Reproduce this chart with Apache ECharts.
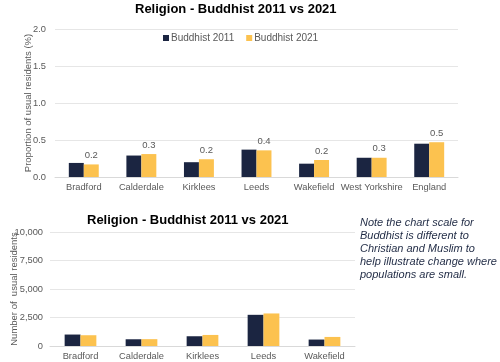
<!DOCTYPE html>
<html><head><meta charset="utf-8">
<script src="https://cdn.jsdelivr.net/npm/echarts@6/dist/echarts.min.js"></script>
<style>html,body{margin:0;padding:0;background:#fff}#c{width:500px;height:362px}</style>
</head><body><div id="c"></div>
<script>
const topCategories = ['Bradford','Calderdale','Kirklees','Leeds','Wakefield','West Yorkshire','England'];
const topPct2011 = [0.19,0.29,0.20,0.37,0.18,0.26,0.45];
const topPct2021 = [0.17,0.31,0.24,0.36,0.23,0.26,0.47];
const topTicks = [0,0.5,1.0,1.5,2.0];
const bottomCategories = ['Bradford','Calderdale','Kirklees','Leeds','Wakefield'];
const bottomCount2011 = [1005,590,855,2735,565];
const bottomCount2021 = [945,600,970,2855,795];
const bottomTicks = [0,2500,5000,7500,10000];
const noteLines = ['Note the chart scale for','Buddhist is different to','Christian and Muslim to','help illustrate change where','populations are small.'];

const NAVY = '#1b2541', YEL = '#fcc24f', GREY = '#595959';
const FONT = 'Liberation Sans, Arial, sans-serif';
const chart = echarts.init(document.getElementById('c'), null, {renderer:'canvas'});
const axisLabel = {color: GREY, fontSize: 9.3, fontFamily: FONT};
chart.setOption({
  animation: false,
  textStyle: {fontFamily: FONT},
  title: [
    {text: 'Religion - Buddhist 2011 vs 2021', left: 135, top: 3, padding: 0, textStyle:{fontSize:13, fontWeight:'bold', color:'#000', fontFamily: FONT}},
    {text: 'Religion - Buddhist 2011 vs 2021', left: 87, top: 214, padding: 0, textStyle:{fontSize:13, fontWeight:'bold', color:'#000', fontFamily: FONT}}
  ],
  legend: {
    left: 163, top: 33, padding: 0, itemWidth: 6, itemHeight: 6, itemGap: 12, icon: 'rect',
    textStyle: {color: GREY, fontSize: 10, fontFamily: FONT, padding:[0,0,0,-3]},
    data: ['Buddhist 2011','Buddhist 2021']
  },
  grid: [
    {left: 55, right: 42, top: 29, bottom: 185, containLabel: false, outerBoundsMode: 'none'},
    {left: 50, right: 145, top: 232, bottom: 16, containLabel: false, outerBoundsMode: 'none'}
  ],
  xAxis: [
    {type:'category', gridIndex:0, data: topCategories, axisTick:{show:false},
     axisLine:{lineStyle:{color:'#d9d9d9'}}, axisLabel:Object.assign({margin:6, interval:0}, axisLabel)},
    {type:'category', gridIndex:1, data: bottomCategories, axisTick:{show:false},
     axisLine:{lineStyle:{color:'#d9d9d9'}}, axisLabel:Object.assign({margin:6, interval:0}, axisLabel)}
  ],
  yAxis: [
    {type:'value', gridIndex:0, min: topTicks[0], max: topTicks[topTicks.length-1], interval: 0.5,
     name:'Proportion of usual residents (%)', nameLocation:'middle', nameGap: 22, nameMoveOverlap: false,
     nameTextStyle:{color:GREY, fontSize:9.5, fontFamily:FONT},
     axisLine:{show:false}, axisTick:{show:false},
     splitLine:{lineStyle:{color:'#e6e6e6'}},
     axisLabel:Object.assign({margin:9, formatter:v=>v.toFixed(1)}, axisLabel)},
    {type:'value', gridIndex:1, min: bottomTicks[0], max: bottomTicks[bottomTicks.length-1], interval: 2500,
     name:'Number of  usual residents', nameLocation:'middle', nameGap: 31, nameMoveOverlap: false,
     nameTextStyle:{color:GREY, fontSize:9.5, fontFamily:FONT},
     axisLine:{show:false}, axisTick:{show:false},
     splitLine:{lineStyle:{color:'#e6e6e6'}},
     axisLabel:Object.assign({margin:7, formatter:v=>v.toLocaleString('en-GB')}, axisLabel)}
  ],
  series: [
    {name:'Buddhist 2011', type:'bar', xAxisIndex:0, yAxisIndex:0, data: topPct2011,
     itemStyle:{color:NAVY}, barGap:'0%', barCategoryGap:'48%'},
    {name:'Buddhist 2021', type:'bar', xAxisIndex:0, yAxisIndex:0, data: topPct2021,
     itemStyle:{color:YEL}, barGap:'0%', barCategoryGap:'48%',
     label:{show:true, position:'top', distance:4, color:GREY, fontSize:9.5, fontFamily:FONT,
            formatter:p=>(Math.round(p.value*10)/10).toFixed(1)}},
    {name:'Buddhist 2011', type:'bar', xAxisIndex:1, yAxisIndex:1, data: bottomCount2011,
     itemStyle:{color:NAVY}, barGap:'0%', barCategoryGap:'48%'},
    {name:'Buddhist 2021', type:'bar', xAxisIndex:1, yAxisIndex:1, data: bottomCount2021,
     itemStyle:{color:YEL}, barGap:'0%', barCategoryGap:'48%'}
  ],
  graphic: [
    {type:'text', left: 360, top: 216,
     style:{text: noteLines.join('\n'), fill:'#1f2a44', font:'italic 11px ' + FONT, lineHeight: 13}}
  ]
});
</script></body></html>
